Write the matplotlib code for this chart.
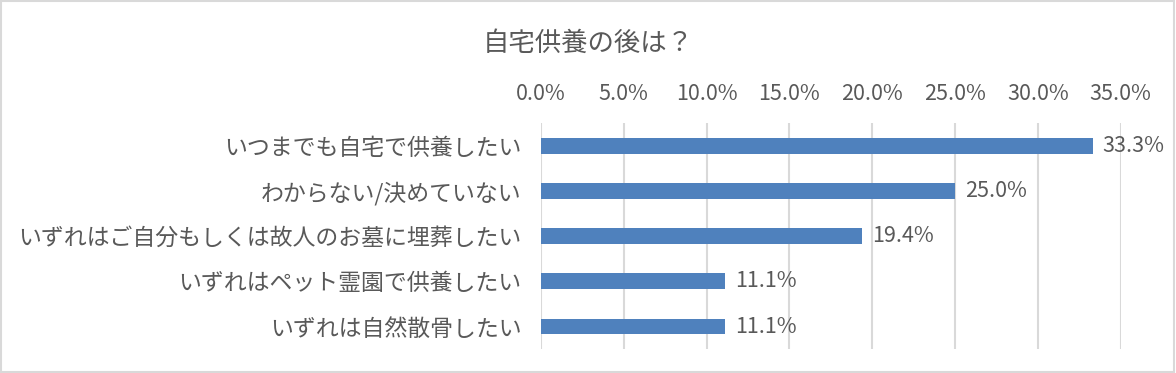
import numpy as np
import matplotlib.pyplot as plt
from matplotlib.patches import Rectangle
from matplotlib.ticker import PercentFormatter

plt.rcParams['font.family'] = ['Noto Sans CJK JP', 'DejaVu Sans']

# Data
categories = ['いつまでも自宅で供養したい', 'わからない/決めていない',
              'いずれはご自分もしくは故人のお墓に埋葬したい',
              'いずれはペット霊園で供養したい', 'いずれは自然散骨したい']
shares = [0.333, 0.250, 0.194, 0.111, 0.111]
ticks = [0.0, 0.05, 0.10, 0.15, 0.20, 0.25, 0.30, 0.35]

text_color = '#595959'
grid_color = '#D9D9D9'
bar_color = '#4F81BD'

fig = plt.figure(figsize=(11.76, 3.73), dpi=100)
ax = fig.add_axes([0.460, 0.064, 0.493, 0.606])

y = np.arange(len(categories))
ax.barh(y, shares, height=0.35, color=bar_color, zorder=3)

# value labels to the right of each bar
for yi, v in zip(y, shares):
    ax.text(v + 0.006, yi, f'{v * 100:.1f}%', va='center', ha='left',
            fontsize=15.5, color=text_color)

ax.set_ylim(len(categories) - 0.5, -0.5)
ax.set_xlim(0, 0.35)
ax.set_yticks(y)
ax.set_yticklabels(categories, fontsize=16.5, color=text_color)
ax.set_xticks(ticks)
ax.xaxis.set_major_formatter(PercentFormatter(1.0, decimals=1))
ax.xaxis.tick_top()
ax.tick_params(axis='x', labelsize=15.5, labelcolor=text_color, length=0, pad=13)
ax.tick_params(axis='y', length=0, pad=14)
ax.grid(axis='x', color=grid_color, linewidth=1.5, zorder=0)
for s in ax.spines.values():
    s.set_visible(False)

fig.text(0.5, 0.885, '自宅供養の後は？', ha='center', va='center',
         fontsize=19, color=text_color)

# light frame around the chart
fig.patches.append(Rectangle((0.001, 0.002), 0.997, 0.995, transform=fig.transFigure,
                             fill=False, edgecolor=grid_color, linewidth=1.5))

fig.savefig('out.png', dpi=100)
